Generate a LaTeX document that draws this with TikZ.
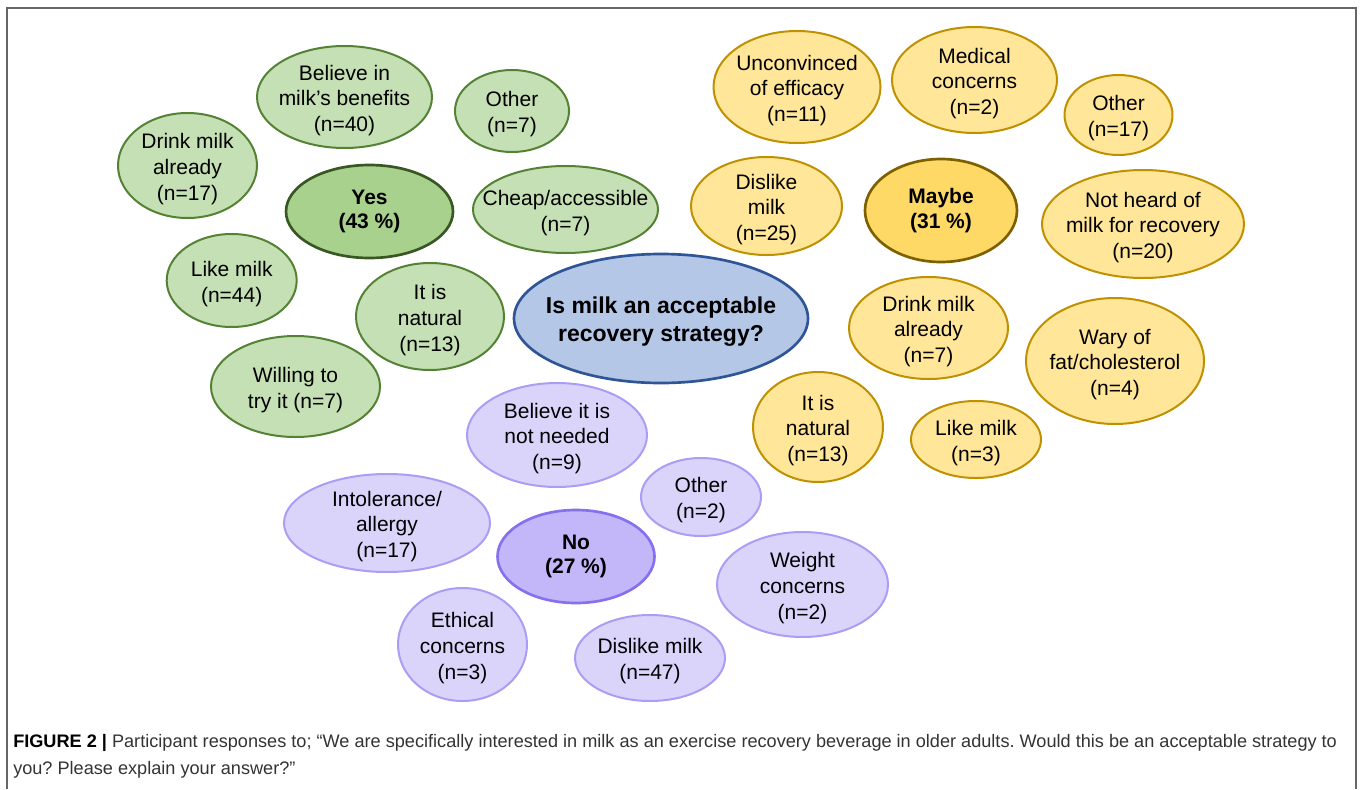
\documentclass[tikz,border=0pt]{standalone}
\usepackage{fontspec}
\setmainfont{Liberation Sans}
\usetikzlibrary{shapes.geometric}
\definecolor{gfill}{HTML}{C5E0B4}
\definecolor{gline}{HTML}{548235}
\definecolor{gyfill}{HTML}{A9D18E}
\definecolor{gyline}{HTML}{385723}
\definecolor{yfill}{HTML}{FFE699}
\definecolor{yline}{HTML}{BF9000}
\definecolor{ymfill}{HTML}{FFD966}
\definecolor{ymline}{HTML}{7F6000}
\definecolor{bfill}{HTML}{B4C7E7}
\definecolor{bline}{HTML}{2F5597}
\definecolor{pfill}{HTML}{DAD4FB}
\definecolor{pline}{HTML}{AC9CF5}
\definecolor{pnfill}{HTML}{C3B7FA}
\definecolor{pnline}{HTML}{8670F0}
\definecolor{capgray}{HTML}{333333}
\definecolor{framegray}{HTML}{666666}
\frenchspacing
\begin{document}
\begin{tikzpicture}[x=0.75pt,y=-0.75pt,
  bub/.style n args={2}{ellipse, inner sep=0pt, minimum width=#1*0.75pt, minimum height=#2*0.75pt, line width=1.5pt},
  gbub/.style={draw=gline, fill=gfill},
  gmain/.style={draw=gyline, fill=gyfill, line width=2pt},
  ybub/.style={draw=yline, fill=yfill},
  ymain/.style={draw=ymline, fill=ymfill, line width=2pt},
  pbub/.style={draw=pline, fill=pfill},
  pmain/.style={draw=pnline, fill=pnfill, line width=2pt},
  cbub/.style={draw=bline, fill=bfill, line width=2pt},
  txt/.style={align=center, inner sep=0pt, yshift=-2.5pt, font=\fontsize{15.75pt}{19.3pt}\selectfont, text=black},
  btxt/.style={align=center, inner sep=0pt, font=\fontsize{15.75pt}{18.5pt}\selectfont\bfseries, text=black},
  ctxt/.style={align=center, inner sep=0pt, yshift=-2pt, font=\fontsize{17.25pt}{21pt}\selectfont\bfseries, text=black},
  captxt/.style={anchor=base west, inner sep=0pt, font=\fontsize{13.6pt}{16pt}\selectfont, text=capgray}]
\useasboundingbox (0,0) rectangle (1360,789);
% frame
\coordinate (f1) at (7,789);
\coordinate (f2) at (7,8);
\coordinate (f3) at (1356,8);
\coordinate (f4) at (1356,789);
\draw[framegray, line width=1.2pt] (f1) -- (f2) -- (f3) -- (f4);
% centre
\node[bub={294}{129}, cbub] (c) at (661,318.5) {};
\node[ctxt] (ct) at (c) {Is milk an acceptable\\recovery strategy?};
% green
\node[bub={175}{102}, gbub] (g1) at (344.5,97) {};
\node[txt] (g1t) at (g1) {Believe in\\milk’s benefits\\(n=40)};
\node[bub={114}{82}, gbub] (g2) at (512,111) {};
\node[txt] (g2t) at (g2) {Other\\(n=7)};
\node[bub={139}{105}, gbub] (g3) at (187.5,165.5) {};
\node[txt] (g3t) at (g3) {Drink milk\\already\\(n=17)};
\node[bub={167}{93}, gmain] (g0) at (369.5,211.5) {};
\node[btxt] (g0t) at (g0) {Yes\\(43 \%)};
\node[bub={185}{87}, gbub] (g4) at (565.5,209.5) {};
\node[txt] (g4t) at (g4) {Cheap/accessible\\(n=7)};
\node[bub={130}{93}, gbub] (g5) at (231.7,280.5) {};
\node[txt] (g5t) at (g5) {Like milk\\(n=44)};
\node[bub={148}{107}, gbub] (g6) at (430,316.5) {};
\node[txt] (g6t) at (g6) {It is\\natural\\(n=13)};
\node[bub={169}{101}, gbub] (g7) at (295.5,386.5) {};
\node[txt] (g7t) at (g7) {Willing to\\try it (n=7)};
% yellow
\node[bub={167}{112}, ybub] (y1) at (797,87) {};
\node[txt] (y1t) at (y1) {Unconvinced\\of efficacy\\(n=11)};
\node[bub={165}{106}, ybub] (y2) at (974.5,80) {};
\node[txt] (y2t) at (y2) {Medical\\concerns\\(n=2)};
\node[bub={108}{80}, ybub] (y3) at (1118.5,115) {};
\node[txt] (y3t) at (y3) {Other\\(n=17)};
\node[bub={151}{98}, ybub] (y4) at (766.5,206) {};
\node[txt] (y4t) at (y4) {Dislike\\milk\\(n=25)};
\node[bub={152}{103}, ymain] (y0) at (941,210.5) {};
\node[btxt] (y0t) at (y0) {Maybe\\(31 \%)};
\node[bub={202}{108}, ybub] (y5) at (1143,224) {};
\node[txt] (y5t) at (y5) {Not heard of\\milk for recovery\\(n=20)};
\node[bub={159}{102}, ybub] (y6) at (928.5,328) {};
\node[txt] (y6t) at (y6) {Drink milk\\already\\(n=7)};
\node[bub={178}{126}, ybub] (y7) at (1115,361) {};
\node[txt] (y7t) at (y7) {Wary of\\fat/cholesterol\\(n=4)};
\node[bub={130}{110}, ybub] (y8) at (818,427) {};
\node[txt] (y8t) at (y8) {It is\\natural\\(n=13)};
\node[bub={130}{77}, ybub] (y9) at (976,439.5) {};
\node[txt] (y9t) at (y9) {Like milk\\(n=3)};
% purple
\node[bub={180}{104}, pbub] (p1) at (557,435) {};
\node[txt] (p1t) at (p1) {Believe it is\\not needed\\(n=9)};
\node[bub={120}{78}, pbub] (p2) at (701,497) {};
\node[txt] (p2t) at (p2) {Other\\(n=2)};
\node[bub={206}{98}, pbub] (p3) at (387,523) {};
\node[txt] (p3t) at (p3) {Intolerance/\\allergy\\(n=17)};
\node[bub={157}{93}, pmain] (p0) at (576,556.5) {};
\node[btxt] (p0t) at (p0) {No\\(27 \%)};
\node[bub={171}{105}, pbub] (p4) at (802.5,584.5) {};
\node[txt] (p4t) at (p4) {Weight\\concerns\\(n=2)};
\node[bub={129}{113}, pbub] (p5) at (462.5,644.5) {};
\node[txt] (p5t) at (p5) {Ethical\\concerns\\(n=3)};
\node[bub={150}{86}, pbub] (p6) at (650,658) {};
\node[txt] (p6t) at (p6) {Dislike milk\\(n=47)};
% caption
\node[captxt] (cap1) at (13,747) {\textbf{\color{black}FIGURE 2 |} Participant responses to; “We are specifically interested in milk as an exercise recovery beverage in older adults. Would this be an acceptable strategy to};
\node[captxt] (cap2) at (13,774) {you? Please explain your answer?”};
\end{tikzpicture}
\end{document}
